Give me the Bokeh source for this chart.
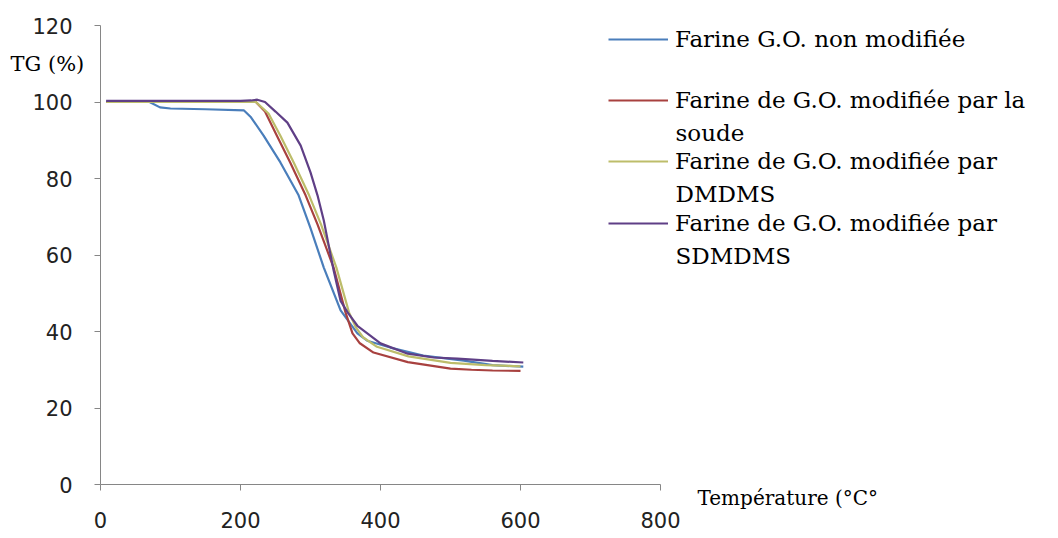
from bokeh.plotting import figure
from bokeh.models import Range1d, Legend, LegendItem, Label, FixedTicker
from bokeh.embed import file_html
from bokeh.resources import INLINE

# ---- data ----
t_nonmod = [8, 70, 85, 100, 150, 205, 215, 233, 257, 283, 300, 319, 343, 367, 381, 414, 461, 519, 560, 604]
tg_nonmod = [100, 100, 98.6, 98.3, 98.1, 97.8, 96, 91.2, 84.2, 75.6, 67, 56.7, 45.5, 39.5, 37.6, 35.8, 33.7, 32.4, 31.2, 30.8]

t_soude = [8, 100, 200, 222, 235, 252, 271, 293, 310, 333, 350, 360, 370, 390, 439, 500, 530, 560, 600]
tg_soude = [100, 100, 100, 100, 97.5, 91.2, 84.2, 75.6, 68, 56.7, 45, 39.5, 37, 34.5, 32, 30.3, 30.0, 29.8, 29.7]

t_dmdms = [8, 100, 200, 222, 240, 257, 276, 298, 315, 337, 355, 365, 375, 395, 440, 500, 550, 600]
tg_dmdms = [100, 100, 100, 100, 97, 91.2, 84.2, 75.6, 68, 56.7, 45, 41, 38.5, 36, 33.5, 31.8, 31.2, 30.9]

t_sdmdms = [8, 100, 200, 215, 224, 235, 250, 267, 286, 300, 310, 319, 333, 343, 353, 367, 400, 439, 476, 510, 560, 604]
tg_sdmdms = [100.3, 100.3, 100.3, 100.4, 100.6, 100, 97.5, 94.6, 88.6, 81.6, 75.6, 69, 56, 48, 45, 41.5, 36.9, 34.2, 33.2, 32.9, 32.3, 31.9]

series_labels = [
    ("Farine G.O. non modifiée", None),
    ("Farine de G.O. modifiée par la", "soude"),
    ("Farine de G.O. modifiée par", "DMDMS"),
    ("Farine de G.O. modifiée par", "SDMDMS"),
]
x_ticks = [0, 200, 400, 600, 800]
y_ticks = [0, 20, 40, 60, 80, 100, 120]
colors = ["#4A7EBB", "#A8413F", "#BDBD6A", "#5F3F86"]

# pixel geometry of the reference: x=0 at px 100, 0.7 px per degree; y=0 at px 484, 3.825 px per %
W, H = 1058, 538
X0, SX = 100, 0.7
Y0, SY = 484, 3.825

def dx(px):
    return (px - X0) / SX

def dy(py):
    return (Y0 - py) / SY

p = figure(width=W, height=H, x_range=Range1d(dx(0), dx(W)), y_range=Range1d(dy(H), dy(0)),
           output_backend="svg", toolbar_location=None,
           min_border=0, min_border_left=0, min_border_right=0, min_border_top=0, min_border_bottom=0)
p.outline_line_color = None
p.xgrid.grid_line_color = None
p.ygrid.grid_line_color = None
p.background_fill_color = "white"
p.border_fill_color = "white"

p.xaxis.fixed_location = 0
p.xaxis.bounds = (x_ticks[0], x_ticks[-1])
p.yaxis.fixed_location = 0
p.yaxis.bounds = (y_ticks[0], y_ticks[-1])

for ax, ticks, standoff in ((p.xaxis[0], x_ticks, 21), (p.yaxis[0], y_ticks, 22)):
    ax.ticker = FixedTicker(ticks=ticks)
    ax.axis_line_color = "#868686"
    ax.major_tick_line_color = "#868686"
    ax.major_tick_in = 0
    ax.major_tick_out = 6
    ax.minor_tick_line_color = None
    ax.major_label_text_font = "DejaVu Sans"
    ax.major_label_text_font_size = "21px"
    ax.major_label_text_color = "#222222"
    ax.major_label_standoff = standoff

data = [(t_nonmod, tg_nonmod), (t_soude, tg_soude), (t_dmdms, tg_dmdms), (t_sdmdms, tg_sdmdms)]
renderers = []
for (t, tg), c in zip(data, colors):
    renderers.append(p.line(t, tg, line_color=c, line_width=2.2))

# ---- legend: one legend per entry so each can be placed ----
entry_centers = [39, 100, 161, 223]     # pixel rows of the first line of each entry
second_line_gap = 32
item_h = 28
for (lab, second), r, cy in zip(series_labels, renderers, entry_centers):
    lg = Legend(items=[LegendItem(label=lab, renderers=[r])],
                location=(608, H - cy - item_h / 2),
                padding=0, margin=0, spacing=0,
                border_line_color=None, background_fill_alpha=0,
                glyph_width=60, glyph_height=item_h, label_height=item_h,
                label_standoff=7,
                label_text_font="DejaVu Serif", label_text_font_size="23px",
                label_text_color="black")
    p.add_layout(lg, "center")
    if second:
        p.add_layout(Label(x=dx(675), y=dy(cy + second_line_gap),
                           text=second, text_font="DejaVu Serif", text_font_size="23px",
                           text_color="black", text_baseline="middle", text_align="left"))

# ---- axis titles ----
p.add_layout(Label(x=dx(10), y=dy(63), text="TG (%)",
                   text_font="DejaVu Serif", text_font_size="21px", text_color="black",
                   text_baseline="middle", text_align="left"))
p.add_layout(Label(x=dx(697), y=dy(497), text="Température (°C°",
                   text_font="DejaVu Serif", text_font_size="20px", text_color="black",
                   text_baseline="middle", text_align="left"))

open("out.html", "w").write(file_html(p, INLINE))
